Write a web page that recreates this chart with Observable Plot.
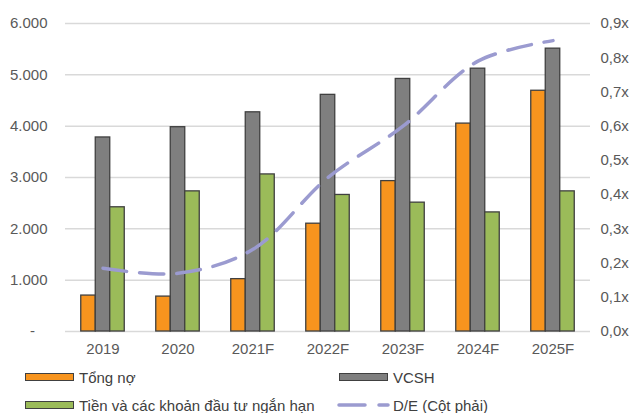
<!DOCTYPE html>
<html><head><meta charset="utf-8">
<script src="https://cdn.jsdelivr.net/npm/d3@7"></script>
<script src="https://cdn.jsdelivr.net/npm/@observablehq/plot@0.6"></script>
<style>
body{margin:0;background:#fff;font-family:"Liberation Sans",Arial,sans-serif;}
#wrap{position:relative;width:632px;height:413px;overflow:hidden}
.leg{position:absolute;font-size:15px;color:#404040;display:flex;align-items:center;height:20px;white-space:nowrap}
.sw{width:47px;height:6px;border:1.4px solid #404040;margin-right:5px}
</style></head><body><div id="wrap"></div>
<script>
const years = ["2019","2020","2021F","2022F","2023F","2024F","2025F"];
const tongNo = [700,680,1020,2100,2930,4050,4690];
const vcsh = [3780,3980,4270,4610,4920,5120,5510];
const tien = [2420,2730,3060,2660,2510,2320,2730];
const de = [0.185,0.17,0.24,0.45,0.60,0.79,0.85];
const seriesNames = ["Tổng nợ","VCSH","Tiền và các khoản đầu tư ngắn hạn","D/E (Cột phải)"];
const colors = ["#F7941E","#7F7F7F","#9BBB59","#9B9BD0"];
const leftTicks = [0,1000,2000,3000,4000,5000,6000];
const rightTicks = [0,0.1,0.2,0.3,0.4,0.5,0.6,0.7,0.8,0.9];
const leftMax = 6000, rightMax = 0.9;

const toLeft = r => r * leftMax / rightMax;
const barSeries = [tongNo, vcsh, tien];
const barW = 14.5, band = (632 - 65 - 42) / years.length;
const inset = (band - barW) / 2;

const marks = [
  Plot.ruleY(leftTicks, {stroke: "#d9d9d9", strokeWidth: 1.5}),
  ...barSeries.map((vals, s) => Plot.barY(years.map((y, i) => ({year: y, value: vals[i]})), {
    x: "year", y: "value", fill: colors[s], stroke: "#404040", strokeWidth: 1.3,
    insetLeft: inset, insetRight: inset, dx: (s - 1) * barW
  })),
  Plot.line(years.map((y, i) => ({year: y, v: toLeft(de[i])})), {
    x: "year", y: "v", curve: "catmull-rom", stroke: colors[3], strokeWidth: 3.5,
    strokeDasharray: "24,13", strokeLinecap: "round"
  }),
  Plot.axisX({tickSize: 0, tickPadding: 12, fontSize: 15, label: null}),
  Plot.axisY(leftTicks, {anchor: "left", tickSize: 0, tickPadding: 18, fontSize: 15, label: null,
    tickFormat: d => d === 0 ? "-\u00a0\u00a0\u00a0" : d3.format(",")(d).replace(/,/g, ".")}),
  Plot.axisY(rightTicks.map(toLeft), {anchor: "right", tickSize: 0, tickPadding: 10, fontSize: 15, label: null,
    tickFormat: d => (d * rightMax / leftMax).toFixed(1).replace(".", ",") + "x"})
];

const chart = Plot.plot({
  width: 632, height: 362,
  marginLeft: 65, marginRight: 42, marginTop: 23, marginBottom: 31,
  x: {domain: years, padding: 0, axis: null},
  y: {domain: [0, leftMax], axis: null},
  style: {fontFamily: '"Liberation Sans", Arial, sans-serif', fontSize: "15px", color: "#595959", background: "#fff"},
  marks
});
const wrap = document.getElementById("wrap");
wrap.appendChild(chart);

function legendItem(left, top, i, isLine) {
  const d = document.createElement("div");
  d.className = "leg";
  d.style.left = left + "px"; d.style.top = top + "px";
  if (isLine) {
    const ns = "http://www.w3.org/2000/svg";
    const s = document.createElementNS(ns, "svg");
    s.setAttribute("width", 54); s.setAttribute("height", 10);
    s.style.marginRight = "2px";
    const l = document.createElementNS(ns, "line");
    l.setAttribute("x1", 2); l.setAttribute("x2", 51); l.setAttribute("y1", 5); l.setAttribute("y2", 5);
    l.setAttribute("stroke", colors[i]); l.setAttribute("stroke-width", 3.5);
    l.setAttribute("stroke-linecap", "round");
    l.setAttribute("stroke-dasharray", "26,14");
    s.appendChild(l);
    d.appendChild(s);
  } else {
    const sw = document.createElement("div");
    sw.className = "sw"; sw.style.background = colors[i];
    d.appendChild(sw);
  }
  const t = document.createElement("span");
  t.textContent = seriesNames[i];
  d.appendChild(t);
  wrap.appendChild(d);
}
legendItem(25, 367, 0, false);
legendItem(339, 367, 1, false);
legendItem(25, 395, 2, false);
legendItem(337, 395, 3, true);
</script></body></html>
